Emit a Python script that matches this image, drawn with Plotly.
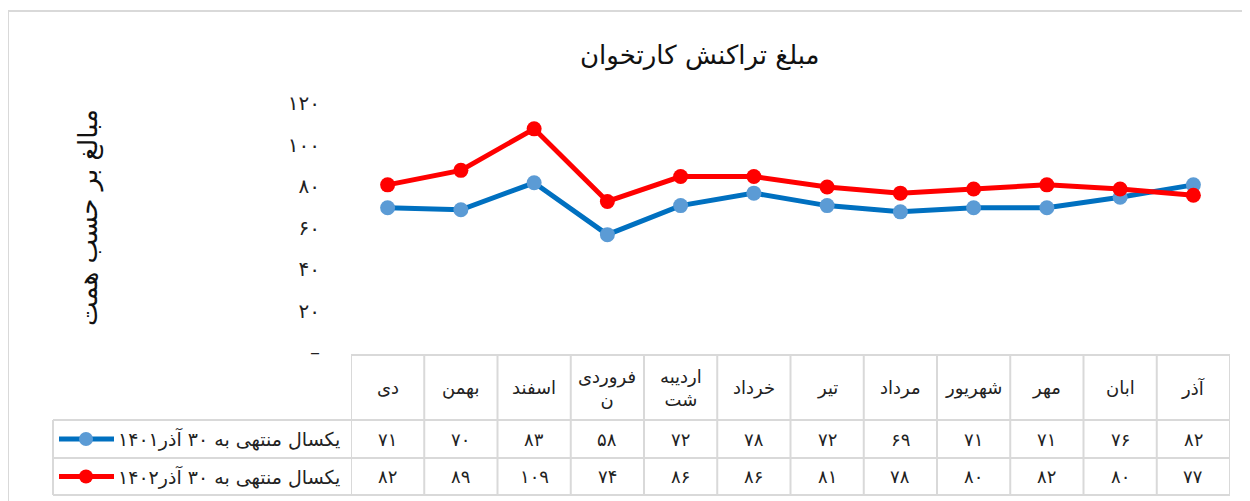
import plotly.graph_objects as go

# ---------------- data ----------------
months = ["دی", "بهمن", "اسفند", "فروردین", "اردیبهشت", "خرداد",
          "تیر", "مرداد", "شهریور", "مهر", "ابان", "آذر"]
month_labels = ["دی", "بهمن", "اسفند", "فروردی<br>ن", "اردیبه<br>شت", "خرداد",
                "تیر", "مرداد", "شهریور", "مهر", "ابان", "آذر"]
series1_name = "یکسال منتهی به ۳۰ آذر۱۴۰۱"
series1 = [71, 70, 83, 58, 72, 78, 72, 69, 71, 71, 76, 82]
series2_name = "یکسال منتهی به ۳۰ آذر۱۴۰۲"
series2 = [82, 89, 109, 74, 86, 86, 81, 78, 80, 82, 80, 77]
y_tickvals = [0, 20, 40, 60, 80, 100, 120]
y_ticktext = ["–", "۲۰", "۴۰", "۶۰", "۸۰", "۱۰۰", "۱۲۰"]
title_text = "مبلغ تراکنش کارتخوان"
y_title = "مبالغ بر حسب همت"

# ---------------- helpers ----------------
W, H = 1250, 501
OFF = 8  # page body margin
FONT = "DejaVu Sans"
GRID = "#d9d9d9"


def fa(n):
    return str(n).translate(str.maketrans("0123456789", "۰۱۲۳۴۵۶۷۸۹"))


def px(x):
    return (x - OFF) / W


def py(y):
    return 1 - (y - OFF) / H


series = [
    (series1_name, series1, "#0070C0", "#5B9BD5"),
    (series2_name, series2, "#FF0000", "#FF0000"),
]

fig = go.Figure()
for name, vals, lc, mc in series:
    fig.add_trace(go.Scatter(
        x=months, y=vals, mode="lines+markers", name=name,
        line=dict(color=lc, width=5),
        marker=dict(color=mc, size=15),
        showlegend=False,
    ))

# table geometry (pixels in the screenshot)
x_left_tbl, x_plot0, x_plot1 = 53, 351, 1230
y_top, y_r1, y_r2, y_bot = 355, 420, 458, 495

shapes = []
line_style = dict(color=GRID, width=2)
# outer chart border (top/left visible)
shapes.append(dict(type="rect", xref="paper", yref="paper",
                   x0=px(8), x1=px(1270), y0=py(11), y1=py(520),
                   line=dict(color=GRID, width=2)))
# horizontal lines of table
shapes.append(dict(type="line", xref="paper", yref="paper",
                   x0=px(x_plot0), x1=px(x_plot1), y0=py(y_top), y1=py(y_top), line=line_style))
for yy in (y_r1, y_r2, y_bot):
    shapes.append(dict(type="line", xref="paper", yref="paper",
                       x0=px(x_left_tbl), x1=px(x_plot1), y0=py(yy), y1=py(yy), line=line_style))
# vertical lines
shapes.append(dict(type="line", xref="paper", yref="paper",
                   x0=px(x_left_tbl), x1=px(x_left_tbl), y0=py(y_r1), y1=py(y_bot), line=line_style))
for i in range(len(months) + 1):
    shapes.append(dict(type="line", xref="x", yref="paper",
                       x0=i - 0.5, x1=i - 0.5, y0=py(y_top), y1=py(y_bot), line=line_style))

annotations = []
# header labels
for m, lab in zip(months, month_labels):
    annotations.append(dict(x=m, xref="x", y=py((y_top + y_r1) / 2), yref="paper",
                            text=lab, showarrow=False, xanchor="center", yanchor="middle",
                            font=dict(family=FONT, size=18, color="#222")))
# values rows
row_centers = [(y_r1 + y_r2) / 2, (y_r2 + y_bot) / 2]
for (name, vals, lc, mc), yc in zip(series, row_centers):
    for m, v in zip(months, vals):
        annotations.append(dict(x=m, xref="x", y=py(yc), yref="paper",
                                text=fa(v), showarrow=False,
                                xanchor="center", yanchor="middle",
                                font=dict(family=FONT, size=18, color="#222")))
    # legend text
    annotations.append(dict(x=px(342), xref="paper", y=py(yc), yref="paper",
                            text=name, showarrow=False, xanchor="right", yanchor="middle",
                            font=dict(family=FONT, size=19, color="#222")))
    # legend key
    shapes.append(dict(type="line", xref="paper", yref="paper",
                       x0=px(59), x1=px(114), y0=py(yc), y1=py(yc),
                       line=dict(color=lc, width=5)))
    shapes.append(dict(type="circle", xref="paper", yref="paper",
                       x0=px(86 - 7), x1=px(86 + 7), y0=py(yc - 7), y1=py(yc + 7),
                       fillcolor=mc, line=dict(width=0)))

# title
annotations.append(dict(x=px(700), xref="paper", y=py(55), yref="paper",
                        text=title_text, showarrow=False,
                        xanchor="center", yanchor="middle",
                        font=dict(family=FONT, size=26, color="#111")))
# y title
annotations.append(dict(x=px(88), xref="paper", y=py(218), yref="paper",
                        text=y_title, showarrow=False, textangle=-90,
                        xanchor="center", yanchor="middle",
                        font=dict(family=FONT, size=26, color="#111")))

fig.update_layout(
    width=W, height=H, autosize=False,
    margin=dict(l=0, r=0, t=0, b=0, pad=0),
    paper_bgcolor="white", plot_bgcolor="white",
    xaxis=dict(domain=[px(x_plot0), px(x_plot1)], range=[-0.5, 11.5],
               showticklabels=False, showgrid=False, zeroline=False,
               showline=False, ticks="", automargin=False),
    yaxis=dict(domain=[py(355), py(355 - 120 * 2.075)], range=[0, 120],
               tickvals=y_tickvals, ticktext=y_ticktext,
               showgrid=False, zeroline=False, showline=False, ticks="",
               ticklabelstandoff=30, ticklabelshift=-3, automargin=False,
               tickfont=dict(family=FONT, size=20, color="#222")),
    shapes=shapes,
    annotations=annotations,
)

fig.write_html("out.html")
